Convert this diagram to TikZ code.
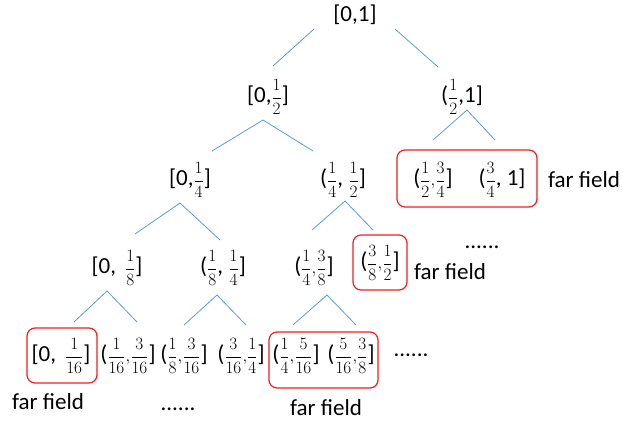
\documentclass[tikz,border=0pt]{standalone}
\usepackage{fontspec}
\setmainfont{Carlito}
\newcommand\fr[2]{{\fontsize{18}{20}\selectfont$\displaystyle\frac{#1}{#2}$}}
\newcommand\frp[4]{{\fontsize{18}{20}\selectfont$\displaystyle\frac{#1}{#2}{,}\frac{#3}{#4}$}}
\begin{document}
\begin{tikzpicture}[x=1pt,y=-1pt,
  lbl/.style={inner sep=0pt, font=\fontsize{23}{26}\selectfont},
  edge/.style={draw={rgb,255:red,91;green,155;blue,213}, line width=0.8pt},
  ffbox/.style={draw={rgb,255:red,240;green,30;blue,30}, line width=1.2pt, rounded corners=8pt}]
\useasboundingbox (0,0) rectangle (623,425);
% level 0-1
\node[lbl] (n0) at (355,15) {[0,1]};
\node[lbl] (n1) at (268,97) {[0,\fr{1}{2}]};
\node[lbl] (n2) at (462,97) {(\fr{1}{2},1]};
% level 2
\node[lbl] (n11) at (190,180) {[0,\fr{1}{4}]};
\node[lbl] (n12) at (343,180) {(\fr{1}{4}, \fr{1}{2}]};
\node[lbl] (n21) at (433,180) {(\frp{1}{2}{3}{4}]};
\node[lbl] (n22) at (502,180) {(\fr{3}{4}, 1]};
\node[lbl] (ff1) at (584,180) {far field};
% level 3
\node[lbl] (n111) at (117,268) {[0,\ \,\fr{1}{8}]};
\node[lbl] (n112) at (223,268) {(\fr{1}{8}, \fr{1}{4}]};
\node[lbl] (n121) at (314,268) {(\frp{1}{4}{3}{8}]};
\node[lbl] (n122) at (380,263) {(\frp{3}{8}{1}{2}]};
\node[lbl] (ff2) at (450,272) {far field};
\node[lbl] (dots1) at (482,247) {......};
% level 4
\node[lbl] (m1) at (61,356) {[0,\ \,\fr{1}{16}]};
\node[lbl] (m2) at (128,356) {(\frp{1}{16}{3}{16}]};
\node[lbl] (m3) at (184,356) {(\frp{1}{8}{3}{16}]};
\node[lbl] (m4) at (241,356) {(\frp{3}{16}{1}{4}]};
\node[lbl] (m5) at (296,356) {(\frp{1}{4}{5}{16}]};
\node[lbl] (m6) at (351,356) {(\frp{5}{16}{3}{8}]};
\node[lbl] (dots2) at (411,355) {......};
\node[lbl] (ff3) at (48,402) {far field};
\node[lbl] (ff4) at (326,408) {far field};
\node[lbl] (dots3) at (178,409) {......};
% boxes
\node[ffbox, minimum width=140pt, minimum height=57pt] (b1) at (467,178.5) {};
\node[ffbox, minimum width=54pt, minimum height=55pt] (b2) at (380,262.5) {};
\node[ffbox, minimum width=70pt, minimum height=55pt] (b3) at (62,355.5) {};
\node[ffbox, minimum width=109pt, minimum height=56pt] (b4) at (323.5,360) {};
% connector end points
\coordinate (e0a) at (314,29); \coordinate (e1a) at (273,66);
\coordinate (e0b) at (395,29); \coordinate (e2a) at (438,67);
\coordinate (e1b) at (263,120); \coordinate (e11a) at (212,151); \coordinate (e12a) at (313,151);
\coordinate (e2b) at (467,110); \coordinate (e21a) at (433,140); \coordinate (e22a) at (495,140);
\coordinate (e11b) at (180,203); \coordinate (e111a) at (135,234); \coordinate (e112a) at (220,240);
\coordinate (e12b) at (345,201); \coordinate (e121a) at (312,230); \coordinate (e122a) at (373,230);
\coordinate (e111b) at (107,291); \coordinate (m1a) at (74,322); \coordinate (m2a) at (137,322);
\coordinate (e112b) at (217,295); \coordinate (m3a) at (184,325); \coordinate (m4a) at (246,325);
\coordinate (e121b) at (327,295); \coordinate (m5a) at (293,325); \coordinate (m6a) at (356,325);
\draw[edge] (e0a) -- (e1a);
\draw[edge] (e0b) -- (e2a);
\draw[edge] (e11a) -- (e1b) -- (e12a);
\draw[edge] (e21a) -- (e2b) -- (e22a);
\draw[edge] (e111a) -- (e11b) -- (e112a);
\draw[edge] (e121a) -- (e12b) -- (e122a);
\draw[edge] (m1a) -- (e111b) -- (m2a);
\draw[edge] (m3a) -- (e112b) -- (m4a);
\draw[edge] (m5a) -- (e121b) -- (m6a);
\end{tikzpicture}
\end{document}
